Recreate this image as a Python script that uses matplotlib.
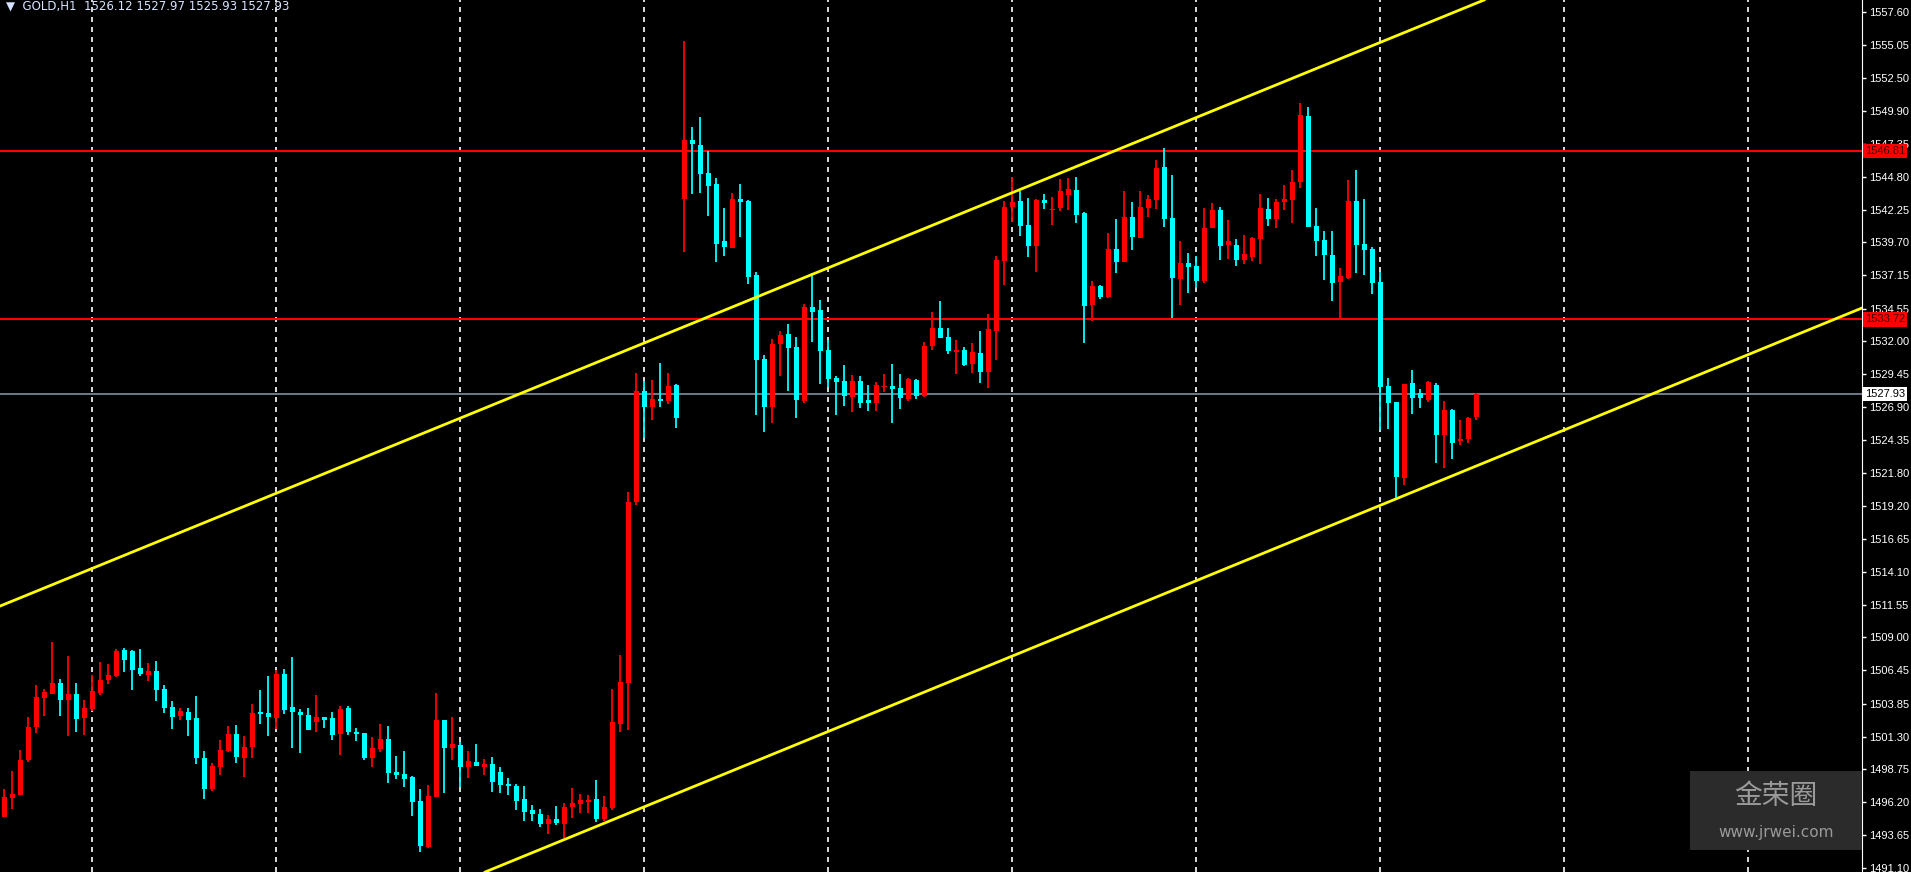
import numpy as np
import matplotlib.pyplot as plt
from matplotlib.patches import Rectangle

# OHLC of GOLD H1 bars (oldest first)
opens = [1495.05, 1496.56, 1496.76, 1499.48, 1502.05, 1504.30, 1504.61, 1505.46, 1504.14, 1504.61,
         1502.75, 1503.45, 1504.69, 1505.70, 1506.01, 1508.03, 1507.95, 1506.63, 1506.09, 1506.40,
         1505.00, 1503.60, 1502.90, 1503.21, 1502.75, 1499.64, 1497.23, 1498.94, 1500.18, 1501.50,
         1499.64, 1500.49, 1503.13, 1503.13, 1502.75, 1506.16, 1503.60, 1503.21, 1502.98, 1502.43,
         1502.82, 1502.75, 1501.50, 1503.52, 1501.66, 1501.58, 1499.64, 1500.33, 1501.11, 1498.55,
         1498.39, 1498.16, 1496.30, 1492.72, 1496.61, 1502.59, 1500.41, 1500.65, 1498.94, 1499.33,
         1498.94, 1499.17, 1498.55, 1497.54, 1497.46, 1496.45, 1495.60, 1495.29, 1494.51, 1494.90,
         1494.51, 1495.83, 1496.06, 1496.22, 1496.45, 1494.90, 1495.75, 1502.28, 1505.46, 1519.50,
         1528.15, 1526.91, 1527.45, 1527.37, 1528.62, 1543.07, 1547.65, 1547.26, 1545.09, 1544.23,
         1539.81, 1539.26, 1543.07, 1542.91, 1537.16, 1530.64, 1526.91, 1531.80, 1532.58, 1531.57,
         1527.37, 1534.68, 1534.44, 1531.34, 1529.16, 1528.93, 1527.68, 1528.93, 1527.45, 1527.22,
         1528.45, 1528.54, 1528.38, 1527.53, 1529.00, 1527.76, 1531.65, 1533.05, 1532.35, 1531.18,
         1531.34, 1530.25, 1531.10, 1529.63, 1532.81, 1538.25, 1542.45, 1542.92, 1541.05, 1539.42,
         1542.99, 1542.19, 1542.37, 1543.38, 1543.77, 1541.98, 1534.83, 1536.31, 1535.46, 1539.19,
         1538.18, 1541.67, 1540.04, 1542.37, 1542.99, 1545.56, 1541.59, 1536.85, 1538.10, 1537.86,
         1536.70, 1540.82, 1542.22, 1539.50, 1539.50, 1538.33, 1538.56, 1539.96, 1542.29, 1541.52,
         1542.84, 1542.99, 1544.39, 1549.52, 1540.97, 1539.89, 1538.72, 1536.62, 1536.93, 1542.92,
         1539.57, 1539.19, 1536.62, 1528.54, 1527.30, 1521.39, 1528.77, 1528.00, 1527.45, 1528.62,
         1524.73, 1526.68, 1524.27, 1524.42, 1526.12]
highs = [1497.23, 1498.63, 1500.26, 1502.82, 1505.31, 1505.00, 1508.65, 1505.78, 1507.56, 1505.46,
         1504.14, 1506.09, 1507.10, 1506.94, 1508.11, 1508.18, 1508.03, 1508.11, 1507.02, 1507.17,
         1505.31, 1504.07, 1503.52, 1503.52, 1504.45, 1500.18, 1499.25, 1501.04, 1502.12, 1502.20,
         1501.35, 1503.83, 1504.92, 1506.01, 1506.48, 1506.55, 1507.49, 1503.45, 1503.52, 1504.53,
         1502.82, 1503.21, 1503.68, 1503.68, 1501.97, 1501.58, 1501.27, 1502.28, 1502.12, 1499.79,
         1500.18, 1498.24, 1497.23, 1497.54, 1504.69, 1502.59, 1502.82, 1500.88, 1500.18, 1500.73,
         1499.56, 1499.71, 1498.94, 1498.08, 1497.62, 1497.46, 1495.99, 1495.67, 1495.21, 1495.91,
         1496.14, 1497.31, 1496.84, 1496.76, 1497.93, 1496.68, 1505.00, 1507.64, 1520.30, 1529.55,
         1528.93, 1529.00, 1530.33, 1529.55, 1528.69, 1555.35, 1548.66, 1549.44, 1546.80, 1544.70,
         1542.37, 1543.53, 1544.23, 1542.99, 1537.40, 1530.95, 1532.19, 1532.81, 1533.36, 1532.35,
         1534.91, 1537.32, 1535.22, 1532.11, 1529.32, 1530.17, 1529.39, 1529.32, 1528.62, 1528.85,
         1529.47, 1530.25, 1529.47, 1529.16, 1529.08, 1531.96, 1534.29, 1535.14, 1533.05, 1532.11,
         1531.57, 1531.88, 1532.81, 1534.13, 1538.64, 1542.92, 1544.78, 1543.69, 1543.15, 1543.07,
         1543.46, 1543.23, 1544.62, 1544.70, 1544.78, 1542.06, 1536.70, 1536.39, 1540.43, 1541.52,
         1543.69, 1542.84, 1543.69, 1543.38, 1546.10, 1547.03, 1544.94, 1539.81, 1538.87, 1538.64,
         1542.37, 1542.76, 1542.45, 1541.44, 1539.96, 1540.27, 1540.12, 1543.46, 1543.15, 1543.07,
         1544.16, 1545.32, 1550.53, 1550.22, 1542.37, 1540.58, 1540.58, 1537.71, 1544.55, 1545.32,
         1543.07, 1539.34, 1537.40, 1529.16, 1527.30, 1528.70, 1529.78, 1528.31, 1528.93, 1528.77,
         1527.38, 1526.75, 1525.90, 1526.13, 1527.97]
lows = [1495.05, 1495.67, 1496.76, 1499.35, 1501.58, 1502.90, 1504.61, 1502.90, 1501.35, 1501.66,
        1501.42, 1503.29, 1504.53, 1505.39, 1505.93, 1506.32, 1504.92, 1506.01, 1505.62, 1504.07,
        1503.13, 1501.89, 1502.59, 1501.35, 1499.17, 1496.45, 1497.07, 1498.32, 1500.10, 1499.25,
        1498.16, 1499.64, 1502.28, 1501.35, 1501.89, 1503.06, 1500.41, 1500.03, 1501.81, 1501.66,
        1501.97, 1501.04, 1499.87, 1501.42, 1500.96, 1499.48, 1498.94, 1500.10, 1497.69, 1498.01,
        1497.38, 1495.13, 1492.33, 1492.64, 1496.61, 1496.92, 1499.48, 1497.38, 1498.08, 1499.02,
        1498.32, 1496.99, 1496.92, 1496.76, 1495.60, 1494.74, 1494.74, 1494.28, 1493.73, 1494.43,
        1493.42, 1494.98, 1495.36, 1495.36, 1494.66, 1494.74, 1495.60, 1501.66, 1501.81, 1519.30,
        1524.50, 1525.90, 1526.91, 1527.17, 1525.28, 1538.95, 1543.46, 1543.53, 1541.75, 1538.17,
        1538.64, 1539.26, 1540.12, 1536.46, 1526.29, 1524.96, 1525.66, 1529.32, 1528.15, 1526.05,
        1527.22, 1531.96, 1528.69, 1528.46, 1526.29, 1526.98, 1526.52, 1526.83, 1526.60, 1526.60,
        1528.07, 1525.66, 1526.75, 1527.37, 1527.53, 1527.68, 1531.34, 1532.27, 1531.03, 1529.47,
        1530.09, 1529.55, 1528.77, 1528.38, 1530.56, 1536.39, 1541.28, 1540.20, 1538.56, 1537.40,
        1542.29, 1541.05, 1542.14, 1542.22, 1541.21, 1531.88, 1533.59, 1535.30, 1535.38, 1537.32,
        1538.18, 1539.11, 1540.04, 1541.67, 1542.29, 1540.89, 1533.82, 1534.83, 1535.77, 1536.15,
        1536.54, 1540.82, 1538.33, 1538.41, 1537.86, 1538.02, 1538.25, 1538.02, 1540.97, 1540.82,
        1542.22, 1541.21, 1543.93, 1540.89, 1538.64, 1536.78, 1535.15, 1533.75, 1536.85, 1537.32,
        1537.17, 1535.69, 1525.12, 1525.20, 1519.84, 1520.85, 1526.37, 1526.83, 1527.30, 1522.56,
        1522.17, 1522.87, 1523.96, 1524.11, 1525.93]
closes = [1496.61, 1496.87, 1499.48, 1502.05, 1504.38, 1504.77, 1505.46, 1504.14, 1504.61, 1502.67,
          1503.52, 1504.84, 1505.70, 1506.09, 1507.95, 1507.25, 1506.48, 1506.16, 1506.40, 1504.92,
          1503.52, 1502.82, 1503.29, 1502.59, 1499.64, 1497.23, 1499.02, 1500.26, 1501.50, 1499.71,
          1500.49, 1503.13, 1503.08, 1502.82, 1506.16, 1503.37, 1503.21, 1502.98, 1501.81, 1502.82,
          1502.59, 1501.42, 1503.45, 1501.66, 1501.50, 1499.64, 1500.41, 1501.11, 1498.47, 1498.32,
          1498.01, 1496.22, 1492.80, 1496.68, 1502.59, 1500.41, 1500.73, 1498.94, 1499.40, 1499.02,
          1499.17, 1497.77, 1497.54, 1497.49, 1496.30, 1495.44, 1495.29, 1494.51, 1494.90, 1494.59,
          1495.83, 1496.14, 1496.37, 1496.37, 1494.90, 1495.83, 1502.43, 1505.54, 1519.50, 1528.15,
          1526.91, 1527.53, 1527.40, 1528.54, 1526.05, 1547.65, 1547.34, 1545.01, 1544.08, 1539.57,
          1539.34, 1543.07, 1542.84, 1537.01, 1530.56, 1526.91, 1531.80, 1532.50, 1531.49, 1527.45,
          1534.68, 1534.29, 1531.26, 1529.08, 1528.85, 1527.76, 1528.93, 1527.22, 1527.22, 1528.62,
          1528.50, 1528.30, 1527.61, 1529.08, 1527.76, 1531.65, 1533.05, 1532.27, 1531.26, 1531.34,
          1530.17, 1531.18, 1529.63, 1532.97, 1538.33, 1542.45, 1542.84, 1540.97, 1539.42, 1542.99,
          1542.76, 1542.29, 1543.69, 1543.85, 1541.83, 1534.76, 1536.31, 1535.46, 1539.19, 1538.18,
          1541.67, 1540.12, 1542.45, 1543.07, 1545.48, 1541.52, 1536.93, 1538.10, 1537.79, 1536.70,
          1540.82, 1542.22, 1539.42, 1539.81, 1538.33, 1538.80, 1540.04, 1542.37, 1541.52, 1542.84,
          1543.07, 1544.39, 1549.60, 1540.89, 1539.81, 1538.72, 1536.54, 1537.09, 1542.92, 1539.50,
          1539.11, 1536.54, 1528.46, 1527.22, 1521.47, 1528.70, 1527.61, 1527.61, 1528.85, 1524.73,
          1526.68, 1524.11, 1524.42, 1526.05, 1527.93]

tick_values = [1557.60, 1555.05, 1552.50, 1549.90, 1547.35, 1544.80, 1542.25, 1539.70, 1537.15,
               1534.55, 1532.00, 1529.45, 1526.90, 1524.35, 1521.80, 1519.20, 1516.65, 1514.10,
               1511.55, 1509.00, 1506.45, 1503.85, 1501.30, 1498.75, 1496.20, 1493.65, 1491.10]
levels = [1546.81, 1533.72]
last_price = 1527.93
grid_bars = [12, 35, 58, 81, 104, 127, 150, 173, 196, 219]
# channel: (bar, price) anchors
upper_channel = [(0.46, 1511.44), (185.96, 1558.53)]
lower_channel = [(61.1, 1490.78), (233.2, 1534.60)]

n = np.arange(1, len(opens) + 1)
o, h, l, c = map(np.array, (opens, highs, lows, closes))
up = c >= o
colors = np.where(up, '#ff0000', '#00ffff')

fig = plt.figure(figsize=(19.11, 8.72), dpi=100, facecolor='black')
ax = fig.add_axes([0, 0, 1862 / 1911, 1])
ax.set_facecolor('black')
ax.set_xlim(0.46, 233.2)
ax.set_ylim(1490.78, 1558.53)

for g in grid_bars:
    ax.axvline(g, color='white', lw=1.2, ls=(0, (3, 3)), zorder=1)

# candles
ax.vlines(n, l, h, colors=colors, lw=1.3, zorder=3)
body_lo = np.minimum(o, c)
body_h = np.maximum(np.abs(c - o), 0.12)
ax.bar(n, body_h, bottom=body_lo, width=0.65, color=colors, zorder=4)

for lv in levels:
    ax.axhline(lv, color='#ff0000', lw=1.5, zorder=2)
ax.axhline(last_price, color='#8090a0', lw=1.2, zorder=2)

for (x0, y0), (x1, y1) in (upper_channel, lower_channel):
    ax.plot([x0, x1], [y0, y1], color='#ffff00', lw=2, zorder=5)

lab_font = 'Liberation Sans'
ax.set_xticks([])
ax.set_yticks(tick_values)
ax.set_yticklabels([f'{v:.2f}' for v in tick_values], family=lab_font)
ax.yaxis.tick_right()
ax.tick_params(axis='y', colors='white', labelsize=8, length=3, width=1, pad=2)
for s in ['top', 'left', 'bottom']:
    ax.spines[s].set_visible(False)
ax.spines['right'].set_color('white')

# price tags on the axis
for lv in levels:
    ax.text(1.0015, lv, f'{lv:.2f}', transform=ax.get_yaxis_transform(), fontsize=8,
            family=lab_font, color='#400000', va='center', ha='left',
            bbox=dict(boxstyle='square,pad=0.2', fc='#ff0000', ec='none'), zorder=10, clip_on=False)
ax.text(1.0015, last_price, f'{last_price:.2f}', transform=ax.get_yaxis_transform(), fontsize=8,
        family=lab_font, color='black', va='center', ha='left',
        bbox=dict(boxstyle='square,pad=0.2', fc='white', ec='none'), zorder=10, clip_on=False)

ax.text(0.003, 0.9935, '\u25bc  GOLD,H1  1526.12 1527.97 1525.93 1527.93', transform=ax.transAxes,
        color='#d8e4ff', fontsize=8.5, va='center', ha='left')

# watermark box
wm = Rectangle((1690 / 1862, 1 - 850 / 872), 172 / 1862, 79 / 872, transform=ax.transAxes,
               fc='#2b2b2b', ec='none', zorder=8)
ax.add_patch(wm)
ax.text(1776 / 1862, 1 - 796 / 872, '金荣圈', transform=ax.transAxes, color='#9a9a9a',
        fontsize=20, ha='center', va='center', family=['Noto Sans CJK SC', 'DejaVu Sans'], zorder=9)
ax.text(1776 / 1862, 1 - 832 / 872, 'www.jrwei.com', transform=ax.transAxes, color='#9a9a9a',
        fontsize=11, ha='center', va='center', zorder=9)

fig.savefig('out.png', dpi=100, facecolor='black')
